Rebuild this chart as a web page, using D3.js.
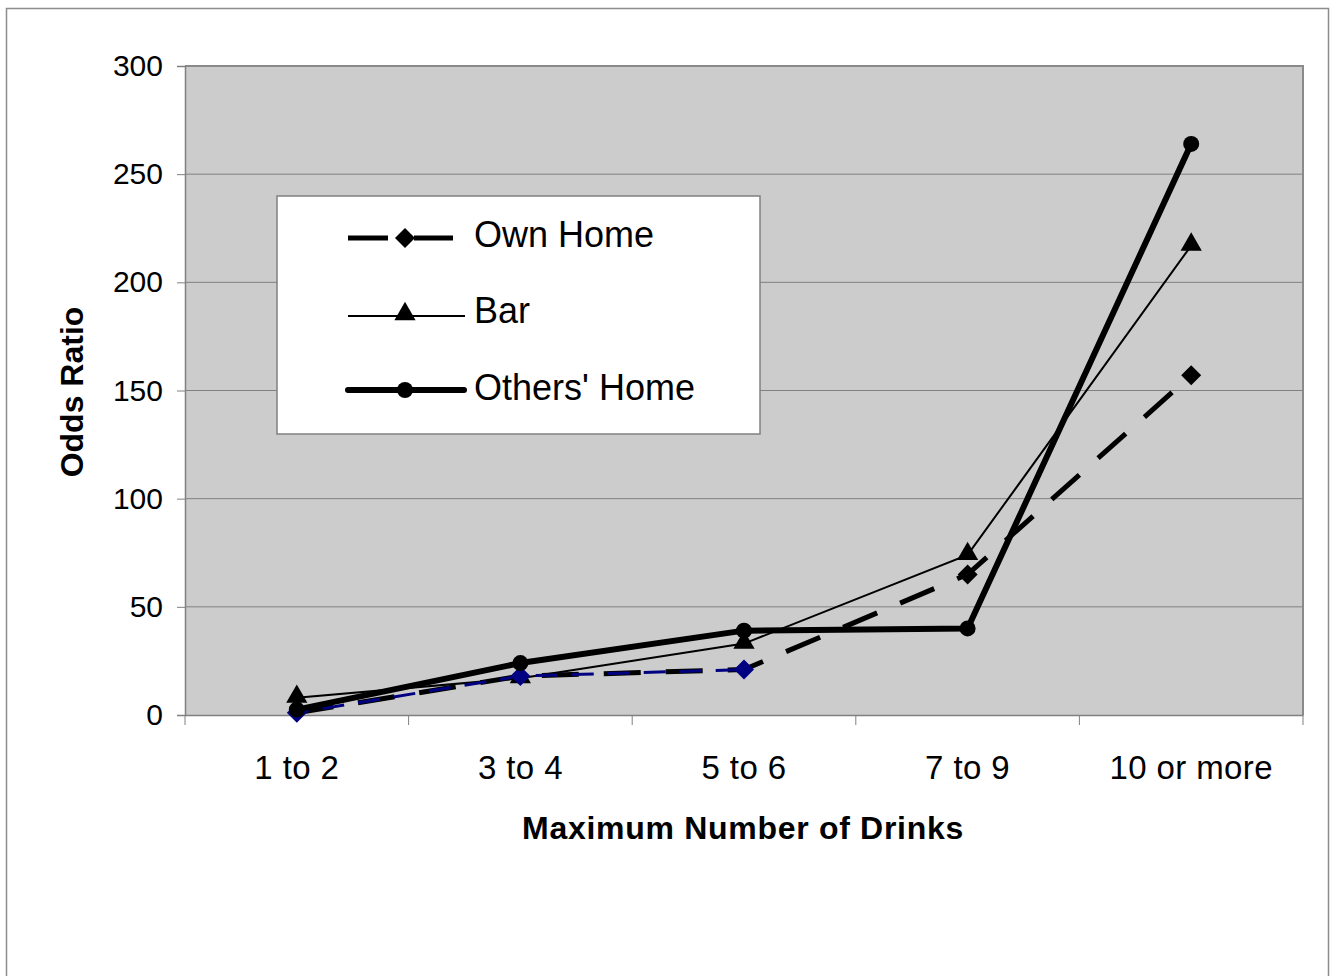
<!DOCTYPE html>
<html>
<head>
<meta charset="utf-8">
<script src="https://cdn.jsdelivr.net/npm/d3@7"></script>
<style>
  html, body { margin: 0; padding: 0; background: #fff; }
  svg { display: block; }
  text { font-family: "Liberation Sans", Arial, sans-serif; fill: #000; }
</style>
</head>
<body>
<svg id="chart" width="1337" height="976"></svg>
<script>
// Odds ratio by maximum number of drinks, for three drinking locations
const categories = ["1 to 2", "3 to 4", "5 to 6", "7 to 9", "10 or more"];
const ownHome    = [1, 18, 21, 65, 157];
const bar        = [8, 17, 33, 74, 217];
const othersHome = [2.5, 24, 39, 40, 264];
const yTicks     = [0, 50, 100, 150, 200, 250, 300];
const seriesNames = ["Own Home", "Bar", "Others' Home"];

const svg = d3.select("#chart");
const plot = { left: 185, top: 66, right: 1303, bottom: 715 };
const FONT = "Liberation Sans, Arial, sans-serif";

// outer frame
svg.append("rect")
  .attr("x", 6.5).attr("y", 8.5).attr("width", 1322).attr("height", 980)
  .attr("fill", "#fff").attr("stroke", "#8c8c8c").attr("stroke-width", 1.5);

const x = d3.scaleBand().domain(categories).range([plot.left, plot.right]);
const y = d3.scaleLinear().domain([0, 300]).range([plot.bottom, plot.top]);
const cx = c => x(c) + x.bandwidth() / 2;

// plot area background
svg.append("rect")
  .attr("x", plot.left).attr("y", plot.top)
  .attr("width", plot.right - plot.left).attr("height", plot.bottom - plot.top)
  .attr("fill", "#cccccc");

// horizontal gridlines
svg.append("g").selectAll("line")
  .data(yTicks.filter(v => v > 0 && v < 300))
  .join("line")
  .attr("x1", plot.left).attr("x2", plot.right)
  .attr("y1", d => y(d)).attr("y2", d => y(d))
  .attr("stroke", "#808080").attr("stroke-width", 1);

// plot area border (top and right)
svg.append("path")
  .attr("d", `M${plot.left},${plot.top}H${plot.right}V${plot.bottom}`)
  .attr("fill", "none").attr("stroke", "#8a8a8a").attr("stroke-width", 2);

// y axis
const yAxis = d3.axisLeft(y).tickValues(yTicks).tickSize(8).tickPadding(14);
const gy = svg.append("g").attr("transform", `translate(${plot.left},0)`).call(yAxis);
gy.select(".domain").attr("stroke", "#808080").attr("stroke-width", 1.5);
gy.selectAll(".tick line").attr("stroke", "#808080");
gy.selectAll(".tick text").attr("font-size", 30).attr("font-family", FONT).attr("fill", "#000");

// x axis with ticks at category boundaries
const xAxis = d3.axisBottom(x).tickSize(0).tickPadding(0);
const gx = svg.append("g").attr("transform", `translate(0,${plot.bottom})`).call(xAxis);
gx.select(".domain").attr("stroke", "#808080").attr("stroke-width", 1.5);
gx.selectAll(".tick text")
  .attr("font-size", 33).attr("font-family", FONT).attr("fill", "#000")
  .attr("letter-spacing", 0.4)
  .attr("dy", null).attr("y", 64);
gx.append("g").selectAll("line")
  .data(categories.map(c => x(c)).concat([plot.right]))
  .join("line")
  .attr("x1", d => d).attr("x2", d => d)
  .attr("y1", 0).attr("y2", 10)
  .attr("stroke", "#808080").attr("stroke-width", 1);

// axis titles
svg.append("text")
  .attr("x", (plot.left + plot.right) / 2 - 1).attr("y", 839)
  .attr("text-anchor", "middle").attr("font-size", 32).attr("font-weight", "bold")
  .attr("letter-spacing", 0.7)
  .text("Maximum Number of Drinks");
svg.append("text")
  .attr("transform", `translate(83,392) rotate(-90)`)
  .attr("text-anchor", "middle").attr("font-size", 32).attr("font-weight", "bold")
  .text("Odds Ratio");

const line = d3.line().x((d, i) => cx(categories[i])).y(d => y(d));

// marker shapes
const diamondPath = "M0,-10L10,0L0,10L-10,0Z";
const triangle = d3.symbol().type(d3.symbolTriangle).size(195);

// Bar: thin solid line with triangles
svg.append("path").datum(bar)
  .attr("d", line).attr("fill", "none").attr("stroke", "#000").attr("stroke-width", 2);
svg.append("g").selectAll("path").data(bar).join("path")
  .attr("transform", (d, i) => `translate(${cx(categories[i])},${y(d) - 1})`)
  .attr("d", triangle).attr("fill", "#000");

// Own Home: thick dashed line with diamonds; the first segments also carry navy dashes
svg.append("path").datum(ownHome)
  .attr("d", line).attr("fill", "none").attr("stroke", "#000")
  .attr("stroke-width", 5).attr("stroke-dasharray", "37,25");
svg.append("path").datum(ownHome.slice(0, 3))
  .attr("d", line).attr("fill", "none").attr("stroke", "#000080")
  .attr("stroke-width", 3).attr("stroke-dasharray", "22,14").attr("stroke-dashoffset", 10);
svg.append("g").selectAll("path").data(ownHome).join("path")
  .attr("transform", (d, i) => `translate(${cx(categories[i])},${y(d)})`)
  .attr("d", diamondPath).attr("fill", (d, i) => i < 3 ? "#000080" : "#000");

// Others' Home: heavy solid line with circles
svg.append("path").datum(othersHome)
  .attr("d", line).attr("fill", "none").attr("stroke", "#000")
  .attr("stroke-width", 6).attr("stroke-linejoin", "round");
svg.append("g").selectAll("circle").data(othersHome).join("circle")
  .attr("cx", (d, i) => cx(categories[i])).attr("cy", d => y(d))
  .attr("r", 8).attr("fill", "#000");

// legend
const lg = svg.append("g");
lg.append("rect")
  .attr("x", 277).attr("y", 196).attr("width", 483).attr("height", 238)
  .attr("fill", "#fff").attr("stroke", "#808080").attr("stroke-width", 1.5);
const rows = [238, 316, 390];
const lm = 405;
// Own Home sample: two dashes either side of the diamond
lg.append("line").attr("x1", 348).attr("x2", 388).attr("y1", rows[0]).attr("y2", rows[0])
  .attr("stroke", "#000").attr("stroke-width", 5);
lg.append("line").attr("x1", 414).attr("x2", 453).attr("y1", rows[0]).attr("y2", rows[0])
  .attr("stroke", "#000").attr("stroke-width", 5);
lg.append("path").attr("transform", `translate(${lm},${rows[0]})`).attr("d", diamondPath).attr("fill", "#000");
// Bar sample
lg.append("line").attr("x1", 348).attr("x2", 465).attr("y1", rows[1]).attr("y2", rows[1])
  .attr("stroke", "#000").attr("stroke-width", 2);
lg.append("path").attr("transform", `translate(${lm},${rows[1] - 2})`).attr("d", triangle).attr("fill", "#000");
// Others' Home sample
lg.append("line").attr("x1", 348).attr("x2", 464).attr("y1", rows[2]).attr("y2", rows[2])
  .attr("stroke", "#000").attr("stroke-width", 6).attr("stroke-linecap", "round");
lg.append("circle").attr("cx", lm).attr("cy", rows[2]).attr("r", 8).attr("fill", "#000");
lg.selectAll("text.lbl").data(seriesNames).join("text")
  .attr("class", "lbl")
  .attr("x", 474).attr("y", (d, i) => [247, 323, 400][i])
  .attr("font-size", 36)
  .text(d => d);
</script>
</body>
</html>
